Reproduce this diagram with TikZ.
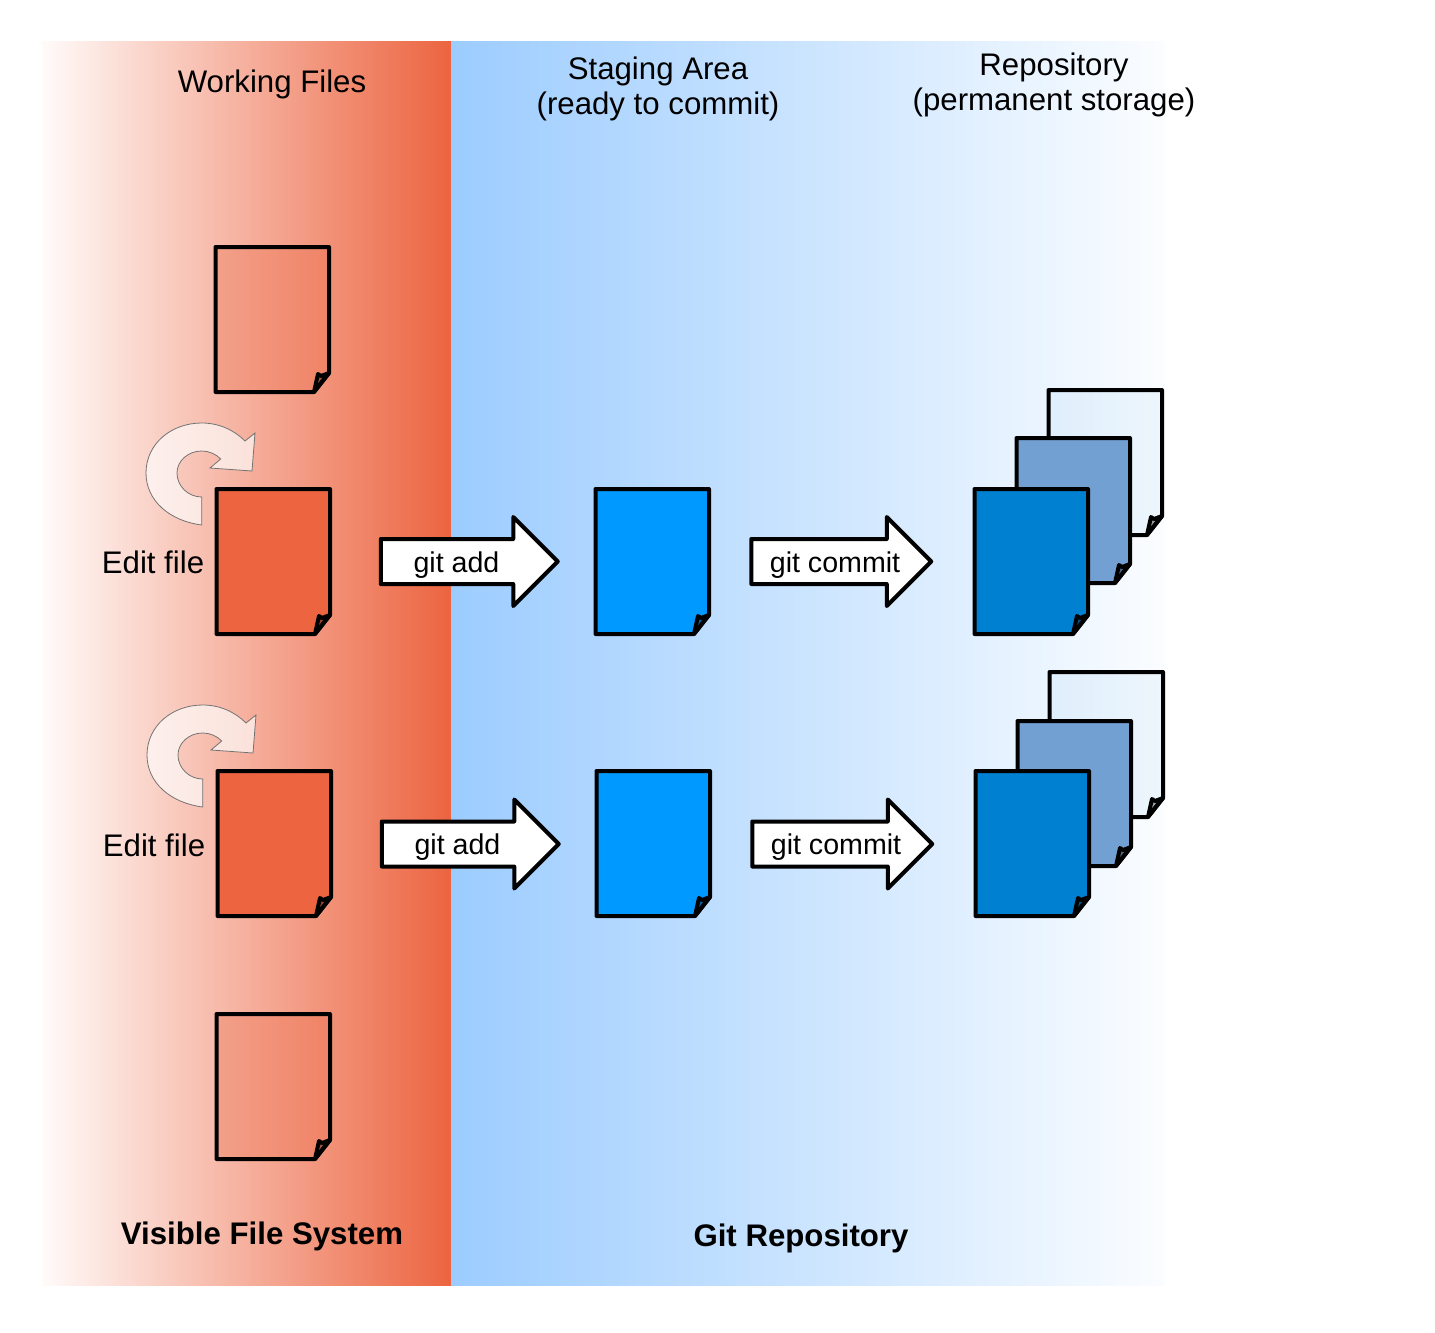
\documentclass[tikz,border=0pt]{standalone}
\usepackage{fontspec}
\setmainfont{Liberation Sans}
\usetikzlibrary{shapes.arrows}
\definecolor{redA}{HTML}{EC6440}
\definecolor{redstart}{HTML}{FFFBFA}
\definecolor{blueA}{HTML}{9CCCFF}
\definecolor{blueend}{HTML}{FBFDFF}
\definecolor{stageblue}{HTML}{0099FF}
\definecolor{repofront}{HTML}{0080D0}
\definecolor{repomid}{HTML}{73A0D2}
\tikzset{
  docline/.style={draw=black,line width=2pt,line join=round},
  redghost/.style={fill=redA,fill opacity=0.3},
  blueghost/.style={fill=repofront,fill opacity=0.05},
  bigarrow/.style={shape=single arrow,draw=black,fill=white,line width=2pt,line join=round,
    single arrow head extend=11pt,single arrow tip angle=90,
    single arrow head indent=0pt,inner sep=0pt,outer sep=0pt,anchor=center},
  lbl/.style={font=\fontsize{15.6}{17.5}\selectfont,align=center,inner sep=0pt,text=black},
  lblarrow/.style={font=\fontsize{14.3}{17}\selectfont,align=center,inner sep=0pt,text=black},
  lblb/.style={font=\fontsize{15.6}{17.5}\selectfont\bfseries,align=center,inner sep=0pt,text=black},
  editarrow/.style={draw=black!55,line width=0.4pt,fill=white,fill opacity=0.65},
}
% #1 left, #2 top, #3 fill option
\newcommand{\docpage}[3]{%
  \path[docline,#3] (#1+0.5,#2) -- ++(113.5,0) -- ++(0,126) -- ++(-15,19) -- ++(-98.5,0) -- cycle;
  \path[draw=black,line width=2pt,line join=round,fill=black,fill opacity=0.35]
    (#1+99,#2+145) -- (#1+103,#2+127) -- (#1+106,#2+129) -- (#1+114,#2+126) -- cycle;
}
\newcommand{\editarrow}[2]{%
  \begin{scope}[shift={(#1,#2)}]
    \path[editarrow] (201.7,525) .. controls (170,521) and (146,501) .. (146,473)
      .. controls (146,444) and (171,423) .. (201.7,423)
      .. controls (219,423) and (234,430) .. (245,441)
      -- (255,433) -- (252,471) -- (210,468) -- (220.7,459)
      .. controls (216,454) and (209,451) .. (201.7,451)
      .. controls (188,451) and (177,461) .. (177,473)
      .. controls (177,486) and (188,497) .. (201.7,497) -- cycle;
  \end{scope}}
\begin{document}
\begin{tikzpicture}[x=0.5pt,y=-0.5pt]
\useasboundingbox (0,0) rectangle (1435,1333);
\fill[white] (0,0) rectangle (1435,1333);
\shade[left color=redstart,right color=redA] (42,41) rectangle (451,1285);
\shade[left color=blueA,right color=blueend] (451,41) rectangle (1165,1285);

\node[lbl] (working) at (272,84) {Working Files};
\node[lbl] (staging) at (658,89) {Staging Area\\(ready to commit)};
\node[lbl] (repo) at (1054,85) {Repository\\(permanent storage)};
\node[lblb] (vfs) at (262,1236) {Visible File System};
\node[lblb] (gitrepo) at (801,1238) {Git Repository};

\docpage{215}{247}{redghost}
\docpage{216}{489}{fill=redA}
\docpage{217}{771}{fill=redA}
\docpage{216}{1014}{redghost}
\docpage{595}{489}{fill=stageblue}
\docpage{596}{771}{fill=stageblue}

\docpage{1048}{390}{blueghost}
\docpage{1016}{438}{fill=repomid}
\docpage{974}{489}{fill=repofront}
\docpage{1049}{672}{blueghost}
\docpage{1017}{721}{fill=repomid}
\docpage{975}{771}{fill=repofront}

\editarrow{0}{0}
\editarrow{1}{282}
\node[lbl] (edit1) at (153,562) {Edit file};
\node[lbl] (edit2) at (154,845) {Edit file};

\node[bigarrow,minimum height=88.5pt] (add1) at (458,561.5) {\rule{0pt}{20.5pt}};
\node[lblarrow] (addl1) at (456.5,565) {git add};
\node[bigarrow,minimum height=90pt] (commit1) at (830,561.5) {\rule{0pt}{20.5pt}};
\node[lblarrow] (commitl1) at (835,565) {git commit};
\node[bigarrow,minimum height=88.5pt] (add2) at (459,844) {\rule{0pt}{20.5pt}};
\node[lblarrow] (addl2) at (457.5,847) {git add};
\node[bigarrow,minimum height=90pt] (commit2) at (831,844) {\rule{0pt}{20.5pt}};
\node[lblarrow] (commitl2) at (836,847) {git commit};
\end{tikzpicture}
\end{document}
